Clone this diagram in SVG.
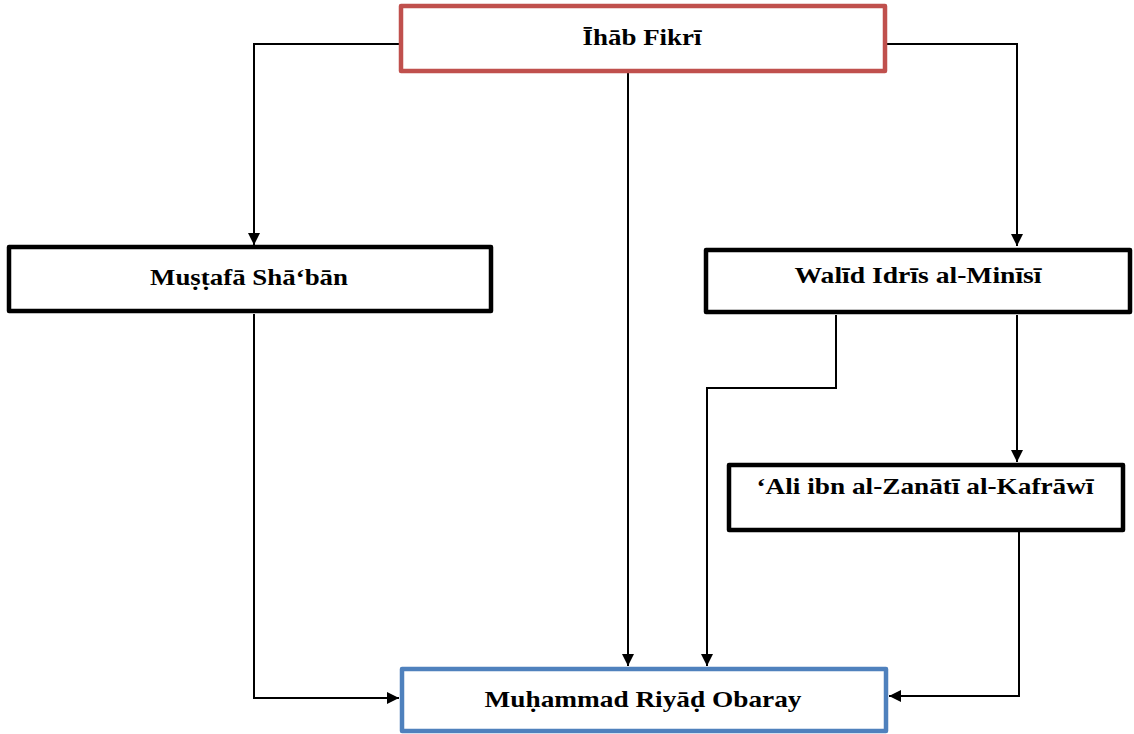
<svg xmlns="http://www.w3.org/2000/svg" width="1134" height="734" viewBox="0 0 1134 734">
<style>
.node{fill:#fff;stroke-width:4.5;stroke-linejoin:round}
.blk{stroke:#000}
.red{stroke:#C0504D}
.blue{stroke:#4F81BD}
.lbl{font-family:"Liberation Serif","DejaVu Serif",serif;font-weight:bold;font-size:24px;fill:#000;text-anchor:middle}
.conn{fill:none;stroke:#000;stroke-width:2}
</style>
<defs>
<marker id="arr" markerWidth="12" markerHeight="12" refX="12" refY="6" orient="auto" markerUnits="userSpaceOnUse">
<path d="M0,0 L12,6 L0,12 Z" fill="#000"/>
</marker>
</defs>
<rect width="1134" height="734" fill="#fff"/>
<g id="connectors">
<path class="conn" d="M401,44 H254 V245" marker-end="url(#arr)"/>
<path class="conn" d="M885,44 H1017 V246" marker-end="url(#arr)"/>
<path class="conn" d="M628,73 V666" marker-end="url(#arr)"/>
<path class="conn" d="M254,314 V698 H399" marker-end="url(#arr)"/>
<path class="conn" d="M836,315 V388 H707 V666" marker-end="url(#arr)"/>
<path class="conn" d="M1017,315 V462" marker-end="url(#arr)"/>
<path class="conn" d="M1019,532 V696 H889" marker-end="url(#arr)"/>
</g>
<g id="n-ihab">
<rect class="node red" x="401" y="6" width="484" height="65"/>
<text class="lbl" x="642" y="45" textLength="119" lengthAdjust="spacingAndGlyphs">Īhāb Fikrī</text>
</g>
<g id="n-mustafa">
<rect class="node blk" x="9" y="247" width="482" height="64"/>
<text class="lbl" x="249" y="285" textLength="198" lengthAdjust="spacingAndGlyphs">Muṣṭafā Shā‘bān</text>
</g>
<g id="n-walid">
<rect class="node blk" x="706" y="250" width="424" height="62"/>
<text class="lbl" x="918" y="283" textLength="247" lengthAdjust="spacingAndGlyphs">Walīd Idrīs al-Minīsī</text>
</g>
<g id="n-ali">
<rect class="node blk" x="729" y="465" width="394" height="65"/>
<text class="lbl" x="925" y="494" textLength="337" lengthAdjust="spacingAndGlyphs">‘Ali ibn al-Zanātī al-Kafrāwī</text>
</g>
<g id="n-muhammad">
<rect class="node blue" x="402" y="669" width="484" height="62"/>
<text class="lbl" x="643" y="707" textLength="317" lengthAdjust="spacingAndGlyphs">Muḥammad Riyāḍ Obaray</text>
</g>
</svg>
